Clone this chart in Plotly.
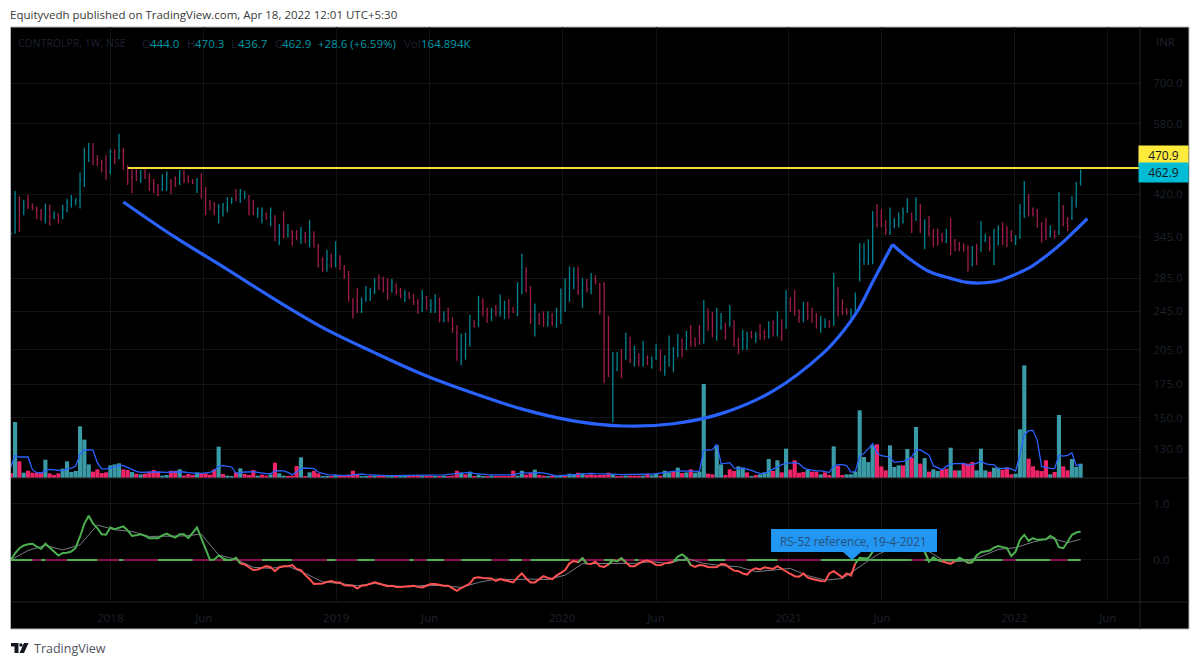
import pandas as pd
import plotly.graph_objects as go

weeks = pd.date_range("2017-07-24", periods=248, freq="7D")

opens = [
    350, 352, 395, 386, 400, 398, 394, 388, 376, 392,
    378, 384, 376, 390, 402, 404, 408, 448, 505, 510,
    492, 485, 475, 462, 508, 496, 512, 478, 455, 460,
    447, 465, 455, 434, 428, 428, 432, 446, 452, 440,
    462, 452, 445, 425, 449, 416, 402, 396, 385, 387,
    395, 405, 428, 410, 414, 415, 400, 384, 380, 384,
    378, 379, 345, 354, 348, 352, 348, 342, 351, 338,
    350, 332, 310, 300, 314, 306, 316, 298, 290, 258,
    258, 244, 260, 258, 268, 285, 284, 276, 270, 278,
    270, 258, 267, 264, 258, 248, 262, 246, 246, 259,
    235, 247, 238, 222, 196, 200, 213, 235, 232, 255,
    248, 238, 250, 243, 240, 255, 249, 242, 268, 292,
    272, 236, 242, 240, 232, 240, 230, 246, 266, 272,
    275, 290, 266, 280, 272, 284, 278, 278, 216, 187,
    188, 195, 198, 212, 192, 198, 192, 198, 190, 198,
    205, 186, 194, 190, 202, 214, 207, 226, 216, 224,
    214, 240, 236, 218, 228, 232, 232, 234, 214, 208,
    208, 222, 214, 228, 222, 218, 228, 222, 232, 230,
    255, 258, 246, 236, 252, 246, 240, 224, 228, 232,
    232, 265, 250, 247, 236, 242, 284, 310, 308, 320,
    385, 380, 365, 352, 362, 366, 370, 388, 384, 376,
    400, 330, 362, 350, 350, 348, 338, 350, 338, 334,
    330, 328, 304, 325, 325, 339, 345, 325, 336, 358,
    352, 348, 336, 345, 385, 415, 392, 388, 362, 355,
    350, 352, 352, 398, 370, 376, 405, 444.0,
]
highs = [
    352, 426, 416, 409, 418, 402, 396, 392, 402, 400,
    388, 384, 400, 411, 418, 412, 464, 520, 531, 531,
    502, 491, 502, 516, 516, 554, 520, 480, 471, 471,
    469, 471, 462, 450, 440, 460, 466, 450, 456, 469,
    469, 458, 450, 452, 462, 434, 409, 405, 401, 403,
    414, 414, 430, 430, 426, 418, 409, 395, 395, 386,
    395, 381, 366, 388, 366, 356, 356, 361, 353, 373,
    354, 334, 314, 325, 319, 338, 317, 303, 295, 260,
    273, 261, 275, 273, 285, 290, 287, 285, 284, 278,
    273, 270, 268, 265, 259, 270, 263, 259, 265, 261,
    245, 249, 238, 230, 221, 222, 241, 235, 263, 260,
    249, 249, 252, 265, 257, 259, 249, 280, 319, 300,
    275, 254, 243, 245, 245, 243, 249, 272, 285, 301,
    300, 301, 285, 284, 292, 289, 279, 280, 240, 203,
    203, 206, 222, 218, 209, 202, 214, 200, 199, 211,
    205, 200, 219, 208, 221, 216, 224, 230, 217, 230,
    258, 248, 244, 249, 243, 232, 252, 235, 217, 225,
    223, 224, 223, 231, 225, 234, 235, 245, 236, 270,
    261, 270, 247, 256, 256, 249, 243, 240, 237, 235,
    292, 274, 259, 249, 248, 267, 335, 335, 341, 388,
    401, 392, 373, 395, 376, 386, 395, 412, 386, 414,
    401, 374, 380, 358, 358, 351, 358, 376, 342, 337,
    335, 332, 331, 334, 371, 350, 345, 358, 364, 369,
    362, 356, 348, 401, 446, 420, 395, 392, 369, 376,
    364, 356, 424, 399, 378, 416, 444, 470.3,
]
lows = [
    348, 350, 353, 381, 392, 390, 374, 371, 367, 363,
    374, 367, 374, 386, 395, 399, 393, 434, 487, 480,
    478, 464, 448, 460, 482, 493, 469, 438, 422, 446,
    442, 450, 426, 422, 416, 426, 426, 420, 434, 438,
    442, 442, 440, 422, 411, 381, 390, 381, 367, 379,
    386, 401, 407, 403, 411, 381, 381, 376, 367, 373,
    362, 338, 332, 342, 344, 331, 340, 334, 335, 329,
    328, 300, 293, 294, 299, 300, 296, 284, 256, 237,
    243, 243, 256, 257, 265, 270, 267, 258, 267, 264,
    260, 256, 259, 252, 242, 244, 246, 243, 243, 233,
    233, 233, 222, 195, 191, 196, 208, 227, 228, 239,
    232, 234, 239, 239, 236, 237, 243, 239, 265, 267,
    231, 218, 230, 228, 228, 229, 227, 231, 244, 256,
    271, 264, 249, 267, 265, 277, 241, 176, 181, 147,
    186, 180, 196, 193, 190, 190, 190, 191, 188, 196,
    186, 182, 190, 185, 198, 198, 205, 208, 208, 210,
    211, 224, 217, 214, 225, 215, 228, 208, 201, 205,
    205, 216, 212, 215, 215, 216, 218, 218, 214, 226,
    244, 240, 232, 233, 235, 232, 226, 222, 227, 227,
    229, 239, 241, 241, 233, 239, 281, 303, 303, 304,
    360, 360, 348, 348, 359, 360, 367, 385, 351, 371,
    351, 326, 346, 329, 331, 336, 335, 317, 323, 323,
    322, 294, 301, 303, 322, 337, 323, 303, 332, 332,
    329, 337, 332, 342, 376, 379, 379, 360, 336, 340,
    344, 342, 348, 362, 354, 373, 395, 436.7,
]
closes = [
    350, 395, 386, 396, 396, 394, 390, 376, 392, 378,
    384, 372, 392, 404, 410, 409, 448, 505, 510, 492,
    484, 470, 460, 510, 495, 512, 480, 450, 452, 452,
    455, 452, 430, 428, 420, 438, 462, 432, 436, 460,
    446, 444, 442, 449, 418, 402, 396, 386, 396, 400,
    412, 410, 412, 426, 420, 395, 386, 392, 388, 378,
    390, 345, 350, 348, 356, 346, 344, 348, 338, 362,
    333, 312, 298, 312, 302, 318, 305, 288, 262, 242,
    244, 254, 266, 266, 282, 276, 272, 264, 280, 268,
    263, 266, 261, 256, 246, 260, 248, 251, 256, 236,
    241, 236, 226, 198, 209, 215, 235, 229, 256, 248,
    242, 246, 242, 254, 248, 245, 244, 258, 300, 270,
    236, 245, 232, 236, 238, 232, 246, 266, 275, 290,
    282, 268, 278, 272, 280, 281, 246, 216, 186, 195,
    196, 188, 212, 196, 198, 194, 196, 193, 195, 205,
    190, 194, 202, 200, 214, 205, 218, 212, 210, 212,
    240, 234, 226, 230, 234, 218, 236, 214, 205, 216,
    214, 218, 218, 219, 218, 226, 224, 232, 220, 255,
    250, 244, 238, 242, 240, 238, 228, 230, 232, 229,
    266, 245, 243, 243, 244, 260, 310, 314, 318, 368,
    364, 362, 356, 368, 370, 376, 386, 404, 356, 406,
    357, 356, 350, 334, 340, 340, 350, 334, 326, 328,
    326, 300, 310, 315, 340, 345, 328, 340, 358, 342,
    340, 340, 342, 385, 425, 395, 385, 362, 346, 352,
    358, 346, 408, 368, 362, 408, 435, 462.9,
]

# volume in thousands
volume = [
    58, 645, 192, 61, 84, 61, 61, 61, 211, 54,
    35, 54, 108, 192, 69, 81, 595, 442, 157, 73,
    100, 58, 65, 146, 157, 169, 100, 92, 69, 50,
    42, 50, 73, 92, 73, 27, 35, 84, 84, 100,
    27, 46, 35, 65, 50, 54, 38, 100, 361, 46,
    27, 19, 65, 111, 46, 35, 92, 27, 38, 27,
    42, 177, 54, 27, 12, 27, 138, 238, 19, 65,
    81, 54, 19, 19, 23, 38, 27, 31, 38, 84,
    46, 19, 19, 27, 27, 27, 27, 35, 35, 27,
    27, 23, 19, 23, 35, 19, 27, 27, 19, 23,
    27, 23, 27, 84, 61, 42, 73, 19, 38, 19,
    15, 27, 23, 23, 23, 23, 84, 27, 84, 38,
    58, 96, 35, 27, 15, 27, 19, 35, 23, 50,
    38, 61, 54, 35, 42, 35, 35, 35, 61, 46,
    19, 19, 27, 27, 27, 27, 27, 50, 31, 54,
    27, 84, 65, 73, 119, 58, 65, 100, 61, 73,
    1083, 50, 42, 376, 157, 35, 100, 81, 134, 119,
    65, 23, 35, 42, 65, 219, 81, 204, 65, 338,
    96, 204, 61, 69, 96, 73, 73, 42, 65, 35,
    365, 142, 35, 42, 42, 73, 780, 242, 184, 376,
    388, 134, 88, 376, 127, 146, 146, 334, 234, 588,
    165, 230, 73, 100, 81, 96, 108, 349, 88, 88,
    173, 165, 184, 88, 338, 88, 73, 119, 119, 96,
    119, 42, 50, 561, 1298, 223, 134, 88, 81, 204,
    42, 69, 726, 134, 88, 219, 127, 164.894,
]
volume_up = [
    0, 1, 0, 1, 0, 0, 0, 0, 1, 0,
    0, 0, 1, 1, 1, 1, 1, 1, 1, 0,
    0, 0, 0, 1, 1, 1, 0, 0, 1, 0,
    1, 0, 0, 0, 0, 1, 1, 0, 0, 1,
    0, 0, 0, 1, 0, 0, 0, 0, 1, 0,
    1, 1, 0, 1, 0, 0, 0, 1, 0, 0,
    1, 0, 1, 1, 0, 0, 0, 1, 0, 1,
    0, 0, 1, 1, 0, 1, 0, 0, 0, 0,
    0, 1, 1, 0, 1, 0, 0, 1, 1, 0,
    1, 1, 0, 0, 0, 1, 0, 0, 1, 0,
    1, 0, 0, 0, 1, 0, 1, 0, 1, 1,
    0, 1, 0, 0, 0, 0, 0, 1, 1, 0,
    0, 1, 0, 0, 1, 0, 1, 1, 0, 1,
    1, 0, 1, 0, 0, 0, 0, 0, 0, 1,
    0, 0, 1, 0, 0, 0, 1, 0, 1, 1,
    0, 1, 1, 0, 1, 0, 1, 0, 1, 1,
    1, 0, 0, 1, 1, 0, 0, 0, 1, 1,
    0, 1, 0, 1, 1, 1, 0, 1, 0, 1,
    0, 0, 0, 0, 1, 0, 0, 1, 0, 0,
    1, 0, 0, 1, 1, 1, 1, 1, 1, 1,
    0, 0, 0, 1, 1, 1, 0, 1, 0, 1,
    0, 1, 0, 1, 1, 0, 0, 1, 0, 1,
    0, 0, 0, 1, 1, 1, 0, 1, 1, 0,
    0, 0, 1, 1, 1, 0, 0, 0, 0, 0,
    1, 0, 1, 0, 0, 1, 1, 1,
]
volume_ma = [
    127, 261, 242, 238, 242, 96, 61, 58, 84, 100,
    96, 92, 84, 108, 115, 138, 276, 323, 326, 319,
    173, 104, 104, 115, 131, 146, 142, 119, 96, 77,
    65, 69, 69, 69, 69, 65, 65, 69, 69, 73,
    69, 61, 54, 54, 54, 58, 65, 84, 138, 142,
    138, 127, 54, 65, 69, 69, 73, 65, 54, 50,
    50, 81, 84, 81, 65, 38, 69, 108, 115, 115,
    108, 69, 54, 38, 35, 31, 27, 27, 31, 38,
    46, 46, 38, 35, 31, 27, 27, 27, 27, 27,
    27, 27, 27, 27, 27, 31, 31, 31, 31, 31,
    35, 42, 46, 50, 54, 61, 65, 54, 46, 42,
    38, 35, 35, 35, 35, 35, 35, 50, 58, 58,
    58, 61, 61, 58, 46, 35, 23, 27, 31, 35,
    42, 50, 54, 54, 54, 50, 50, 50, 50, 46,
    42, 38, 38, 38, 38, 38, 38, 42, 46, 50,
    58, 61, 69, 77, 81, 81, 77, 77, 77, 77,
    319, 319, 326, 388, 165, 169, 177, 115, 104, 115,
    104, 88, 69, 54, 50, 77, 108, 131, 154, 169,
    177, 177, 165, 119, 100, 88, 81, 81, 77, 65,
    134, 154, 154, 142, 65, 77, 250, 284, 338, 396,
    288, 257, 250, 242, 180, 184, 192, 211, 242, 326,
    323, 292, 265, 142, 115, 96, 134, 161, 165, 165,
    169, 146, 154, 169, 192, 165, 154, 154, 108, 108,
    115, 104, 81, 269, 499, 545, 549, 434, 134, 123,
    111, 108, 261, 253, 261, 288, 142, 154,
]

rs = [
    0, .12, .21, .26, .28, .29, .24, .20, .29, .22,
    .15, .08, .125, .13, .15, .22, .42, .65, .79, .65,
    .57, .46, .45, .58, .55, .58, .60, .53, .43, .44,
    .46, .43, .39, .39, .39, .44, .47, .43, .40, .46,
    .46, .39, .48, .58, .39, .21, 0, .01, .08, .03,
    0, 0, .04, -.06, -.08, -.13, -.18, -.17, -.14, -.11,
    -.13, -.20, -.13, -.11, -.11, -.09, -.16, -.18, -.27, -.34,
    -.43, -.43, -.42, -.39, -.375, -.40, -.40, -.45, -.45, -.46,
    -.51, -.46, -.45, -.43, -.40, -.42, -.45, -.47, -.46, -.48,
    -.48, -.47, -.46, -.46, -.48, -.49, -.46, -.43, -.43, -.45,
    -.46, -.46, -.51, -.55, -.50, -.46, -.42, -.32, -.31, -.32,
    -.32, -.33, -.375, -.34, -.36, -.38, -.40, -.31, -.24, -.33,
    -.40, -.40, -.34, -.29, -.32, -.34, -.28, -.23, -.18, -.06,
    -.02, -.04, .03, -.065, -.07, -.03, -.11, -.125, -.08, 0,
    -.02, .03, -.04, -.11, -.11, -.06, -.02, -.01, -.04, -.09,
    -.095, -.06, -.05, -.03, .06, .10, .04, -.09, -.125, -.09,
    -.10, -.125, -.13, -.125, -.07, -.08, -.14, -.19, -.20, -.24,
    -.26, -.18, -.15, -.17, -.13, -.14, -.16, -.11, -.16, -.21,
    -.25, -.29, -.30, -.24, -.315, -.34, -.36, -.375, -.38, -.24,
    -.20, -.26, -.31, -.24, -.28, -.06, .04, .03, .03, .15,
    .21, .24, .26, .30, .28, .32, .36, .40, .33, .39,
    .27, .15, -.03, .05, 0, -.02, -.05, -.07, -.02, .04,
    0, -.05, -.04, .08, .14, .16, .17, .22, .25, .23,
    .21, .07, .15, .36, .45, .34, .39, .36, .37, .37,
    .43, .39, .23, .21, .32, .45, .49, .51,
]
# read every fourth week, the grey average is smooth enough for that
rs_ma_weeks = list(range(0, 248, 4)) + [247]
rs_ma = [
    0, .17, .26, .18, .27, .625, .54, .51, .42, .42, .43, .46, .09, .01, -.13, -.15,
    -.11, -.24, -.39, -.42, -.46, -.42, -.46, -.48, -.45, -.46, -.49, -.40, -.34, -.35,
    -.34, -.35, -.27, -.065, -.06, -.06, -.06, -.03, -.065, .03, -.06, -.10, -.12, -.21,
    -.18, -.15, -.28, -.36, -.33, -.12, .09, .24, .27, .15, -.04, -.02, .06, .19, .22,
    .32, .39, .31, .37,
]
# weeks where the zero line is green, the rest is purple
zero_green_runs = [
    (0, 5), (7, 8), (13, 20), (25, 26), (34, 39), (40, 42), (49, 51), (58, 59), (60, 65),
    (73, 75), (80, 84), (92, 93), (96, 100), (104, 111), (115, 118), (120, 121), (122, 129),
    (137, 139), (144, 145), (153, 156), (161, 165), (170, 171), (172, 177), (187, 206),
    (207, 208), (211, 229), (232, 237), (238, 240), (244, 247),
]

# the two hand drawn curves
cup_dates = ["2018-01-22", "2018-04-13", "2018-07-03", "2018-09-21", "2018-12-11", "2019-03-02",
             "2019-05-22", "2019-08-11", "2019-10-30", "2020-01-19", "2020-04-09", "2020-06-29",
             "2020-09-18", "2020-12-08", "2021-02-26", "2021-03-31", "2021-04-24", "2021-05-18",
             "2021-06-18"]
cup_prices = [405, 346, 300, 260, 227, 203, 183, 168, 156, 148, 144.5, 146,
              153.5, 170, 202, 224, 247, 282, 333]
handle_dates = ["2021-06-18", "2021-07-12", "2021-08-15", "2021-09-20", "2021-10-14", "2021-11-07",
                "2021-12-05", "2021-12-30", "2022-01-27", "2022-02-23", "2022-03-21", "2022-04-10",
                "2022-04-29"]
handle_prices = [333, 314, 294.5, 285, 280, 279, 281.5, 289, 300, 317, 337, 356, 375]
resistance_dates = ["2018-01-29", "2022-07-23"]
resistance_price = [473.5, 473.5]

price_ticks = [700, 580, 420, 345, 285, 245, 205, 175, 150, 130]
rs_ticks = [0, 1]
time_ticks = ["2018-01-01", "2018-06-01", "2019-01-01", "2019-06-01", "2020-01-01", "2020-06-01",
              "2021-01-01", "2021-06-01", "2022-01-01", "2022-06-01"]
time_labels = ["2018", "Jun", "2019", "Jun", "2020", "Jun", "2021", "Jun", "2022", "Jun"]

TEAL = "#00838f"
RED = "#9c1c4e"
DIM = "#1e222d"
GRID = "#131313"
DIVIDER = "#242424"
FONT = "Open Sans"

LEFT, RIGHT, TOP, BOTTOM = 11, 1140, 27, 602


def px(x):
    return (x - LEFT) / (RIGHT - LEFT)


def py(y):
    return (BOTTOM - y) / (BOTTOM - TOP)


fig = go.Figure()

fig.add_trace(go.Bar(
    x=weeks, y=volume, yaxis="y",
    marker=dict(color=["#3a9aa6" if up else "#ee2468" for up in volume_up], line_width=0),
))
fig.add_trace(go.Scatter(
    x=weeks, y=volume_ma, yaxis="y", mode="lines",
    line=dict(color="#2962ff", width=1.3),
))
fig.add_trace(go.Ohlc(
    x=weeks, open=opens, high=highs, low=lows, close=closes, yaxis="y2",
    increasing_line_color=TEAL, decreasing_line_color=RED,
    line_width=1.3, tickwidth=0.2,
))
fig.add_trace(go.Scatter(
    x=resistance_dates, y=resistance_price, yaxis="y2", mode="lines",
    line=dict(color="#f5dc32", width=2),
))
fig.add_trace(go.Scatter(
    x=cup_dates, y=cup_prices, yaxis="y2", mode="lines",
    line=dict(color="#2962ff", width=3.2, shape="spline"),
))
fig.add_trace(go.Scatter(
    x=handle_dates, y=handle_prices, yaxis="y2", mode="lines",
    line=dict(color="#2962ff", width=3.2, shape="spline"),
))

# indicator pane
zero_green = [None] * len(weeks)
for start, end in zero_green_runs:
    for i in range(start, end + 1):
        zero_green[i] = 0
fig.add_trace(go.Scatter(
    x=weeks, y=[0] * len(weeks), yaxis="y3", mode="lines",
    line=dict(color="#880e4f", width=2),
))
fig.add_trace(go.Scatter(
    x=weeks, y=zero_green, yaxis="y3", mode="lines",
    line=dict(color="#4caf50", width=2),
))
fig.add_trace(go.Scatter(
    x=weeks[rs_ma_weeks], y=rs_ma, yaxis="y3", mode="lines",
    line=dict(color="#787b86", width=1),
))
rs_red = []
rs_green = []
for i, v in enumerate(rs):
    prev_v = rs[i - 1] if i > 0 else v
    next_v = rs[i + 1] if i < len(rs) - 1 else v
    rs_red.append(v if v < 0 or next_v < 0 else None)
    rs_green.append(v if v >= 0 or prev_v >= 0 or next_v >= 0 else None)
fig.add_trace(go.Scatter(
    x=weeks, y=rs_red, yaxis="y3", mode="lines",
    line=dict(color="#ff5252", width=2),
))
fig.add_trace(go.Scatter(
    x=weeks, y=rs_green, yaxis="y3", mode="lines",
    line=dict(color="#4caf50", width=2),
))

shapes = [
    # chart frame, runs past the plot area to hold the two axis strips
    dict(type="rect", xref="paper", yref="paper", layer="below",
         x0=px(10.5), x1=px(1189), y0=py(629), y1=py(27),
         fillcolor="black", line=dict(color="#b2b5be", width=1)),
    dict(type="line", xref="paper", yref="paper", x0=1, x1=1, y0=py(629), y1=py(27),
         line=dict(color=DIVIDER, width=1)),
    dict(type="line", xref="paper", yref="paper", x0=px(11), x1=px(1189), y0=py(478), y1=py(478),
         line=dict(color=DIVIDER, width=1)),
    dict(type="line", xref="paper", yref="paper", x0=px(11), x1=px(1189), y0=0, y1=0,
         line=dict(color=DIVIDER, width=1)),
    # callout with its pointer
    dict(type="rect", xref="paper", yref="paper",
         x0=px(771), x1=px(937), y0=py(552), y1=py(529),
         fillcolor="#2196f3", line_width=0),
    dict(type="path", xref="paper", yref="paper", fillcolor="#2196f3", line_width=0,
         path=f"M {px(843)},{py(552)} L {px(861)},{py(552)} L {px(852)},{py(560)} Z"),
    # TradingView mark
    dict(type="path", xref="paper", yref="paper", fillcolor="#131722", line_width=0,
         path=f"M {px(11)},{py(643)} L {px(18.5)},{py(643)} L {px(18.5)},{py(653)} L {px(14.5)},{py(653)} "
              f"L {px(14.5)},{py(646.5)} L {px(11)},{py(646.5)} Z"),
    dict(type="path", xref="paper", yref="paper", fillcolor="#131722", line_width=0,
         path=f"M {px(24)},{py(643)} L {px(28.5)},{py(643)} L {px(24)},{py(653)} L {px(19.5)},{py(653)} Z"),
    dict(type="circle", xref="paper", yref="paper", fillcolor="#131722", line_width=0,
         x0=px(19.3), x1=px(22.7), y0=py(646.7), y1=py(643.3)),
]


def label(text, x, y, color, size=11.5, anchor="left", **kw):
    # annotations carry about 2px of padding on the left
    x = x - 2 if anchor == "left" else x
    return dict(text=text, x=px(x), y=py(y), xref="paper", yref="paper", xanchor=anchor,
                yanchor="middle", showarrow=False, font=dict(family=FONT, size=size, color=color), **kw)


annotations = [
    label("Equityvedh published on TradingView.com, Apr 18, 2022 12:01 UTC+5:30", 10, 15, "#3a3a3a", 11.5),
    label("TradingView", 34, 648, "#50535e", 12.5),
    label("CONTROLPR, 1W, NSE", 18, 43, DIM, 10.5),
    label("O", 142, 43, DIM),
    label("444.0", 150, 43, "#0097a7"),
    label("H", 187, 43, DIM),
    label("470.3", 195, 43, "#0097a7"),
    label("L", 231, 43, DIM),
    label("436.7", 238, 43, "#0097a7"),
    label("C", 275, 43, DIM),
    label("462.9", 282, 43, "#0097a7"),
    label("+28.6 (+6.59%)", 318, 43, "#0097a7"),
    label("Vol", 404, 43, DIM),
    label("164.894K", 421, 43, "#0097a7"),
    label("INR", 1165, 42, DIM, anchor="center"),
    label("RS-52 reference, 19-4-2021", 853, 540.5, "#2a4f78", 11.7, anchor="center"),
    label("470.9", 1163.5, 155.5, "#131722", 12, anchor="center", bgcolor="#ffeb3b", width=47, height=17),
    label("462.9", 1163.5, 172.5, "#131722", 12, anchor="center", bgcolor="#00bcd4", width=47, height=17),
]

fig.update_layout(
    width=1200, height=665,
    margin=dict(l=LEFT, r=1200 - RIGHT, t=TOP, b=665 - BOTTOM),
    paper_bgcolor="white", plot_bgcolor="black",
    showlegend=False, bargap=0.05,
    font=dict(family=FONT, size=12, color=DIM),
    shapes=shapes, annotations=annotations,
    xaxis=dict(
        type="date", range=["2017-07-24 10:00", "2022-07-23"], anchor="y3",
        rangeslider=dict(visible=False),
        tickmode="array", tickvals=time_ticks, ticktext=time_labels,
        ticks="outside", ticklen=5, tickcolor="rgba(0,0,0,0)",
        showgrid=True, gridcolor=GRID, zeroline=False, showline=False,
        tickfont=dict(family=FONT, size=11.5, color=DIM),
    ),
    yaxis=dict(domain=[py(478), 1], range=[0, 5196], visible=False, fixedrange=True),
    yaxis2=dict(
        domain=[py(478), 1], overlaying="y", side="right", anchor="x", type="log",
        range=[2.056, 2.957],
        tickmode="array", tickvals=price_ticks, ticktext=[f"{t:.1f}" for t in price_ticks],
        ticks="outside", ticklen=10, tickcolor="rgba(0,0,0,0)",
        showgrid=True, gridcolor=GRID, zeroline=False, showline=False,
        tickfont=dict(family=FONT, size=11.5, color=DIM),
    ),
    yaxis3=dict(
        domain=[0, py(478)], side="right", anchor="x",
        range=[-0.75, 1.464],
        tickmode="array", tickvals=rs_ticks, ticktext=[f"{t:.1f}" for t in rs_ticks],
        ticks="outside", ticklen=10, tickcolor="rgba(0,0,0,0)",
        showgrid=True, gridcolor=GRID, zeroline=False, showline=False,
        tickfont=dict(family=FONT, size=11.5, color=DIM),
    ),
)

fig.write_html("out.html", config={"displayModeBar": False},
               post_script="document.body.style.margin='0'")
